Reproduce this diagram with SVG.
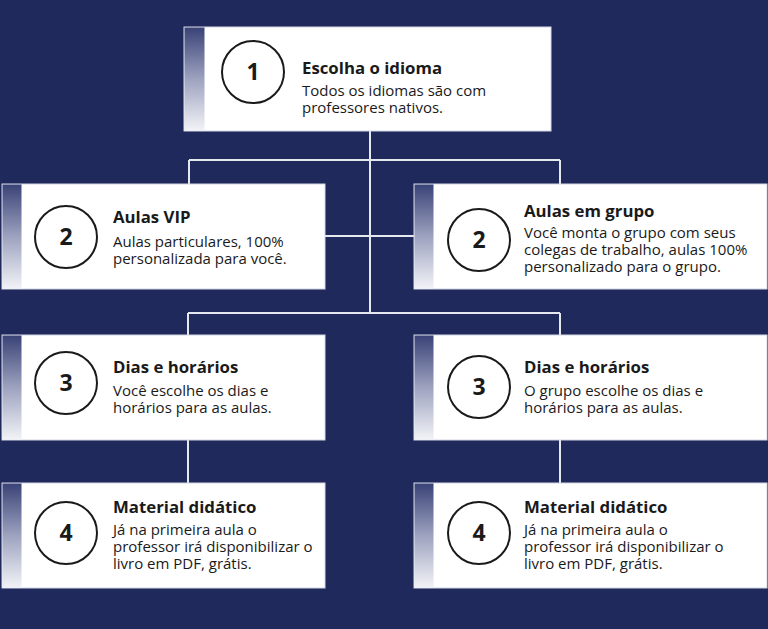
<svg xmlns="http://www.w3.org/2000/svg" width="768" height="629" viewBox="0 0 768 629">
<defs>
<linearGradient id="strip" x1="0" y1="0" x2="0" y2="1">
<stop offset="0" stop-color="#3a4377"/>
<stop offset="0.5" stop-color="#9da2bf"/>
<stop offset="1" stop-color="#f2f3f7"/>
</linearGradient>
<style>
.box{fill:#ffffff;stroke:#d4d7e4;stroke-width:1}
.strip{fill:url(#strip)}
.circ{fill:none;stroke:#1a1a1a;stroke-width:2}
.num{font-family:"Open Sans","Noto Sans",sans-serif;font-weight:700;font-size:23px;fill:#1a1a1a;text-anchor:middle}
.title{font-family:"Open Sans","Noto Sans",sans-serif;font-weight:700;font-size:16.8px;fill:#1a1a1a}
.body{font-family:"Open Sans","Noto Sans",sans-serif;font-size:15px;fill:#1a1a1a}
.conn{fill:none;stroke:#e6e8f0;stroke-width:2}
</style>
</defs>
<rect width="768" height="629" fill="#1f295c"/>
<g id="connectors">
<path class="conn" d="M370 131V313"/>
<path class="conn" d="M189 160H560M189 160V184M560 160V184"/>
<path class="conn" d="M325 236H414"/>
<path class="conn" d="M188 313H560M188 313V335M560 313V335"/>
<path class="conn" d="M188 440V483M560 440V483"/>
</g>
<g id="node1">
<rect class="box" x="184" y="27" width="367" height="104"/>
<rect class="strip" x="184.5" y="27.5" width="20" height="103"/>
<circle class="circ" cx="253" cy="72" r="31"/>
<text class="num" x="253" y="80">1</text>
<text class="title" x="302" y="74">Escolha o idioma</text>
<text class="body" x="302" y="96">Todos os idiomas são com</text>
<text class="body" x="302" y="113">professores nativos.</text>
</g>
<g id="node2a">
<rect class="box" x="2" y="184" width="323" height="105"/>
<rect class="strip" x="2.5" y="184.5" width="19" height="104"/>
<circle class="circ" cx="66" cy="237" r="31"/>
<text class="num" x="66" y="245">2</text>
<text class="title" x="113" y="223">Aulas VIP</text>
<text class="body" x="113" y="247">Aulas particulares, 100%</text>
<text class="body" x="113" y="264">personalizada para você.</text>
</g>
<g id="node2b">
<rect class="box" x="414" y="184" width="353" height="105"/>
<rect class="strip" x="414.5" y="184.5" width="19" height="104"/>
<circle class="circ" cx="479" cy="240" r="31"/>
<text class="num" x="479" y="248">2</text>
<text class="title" x="524" y="217">Aulas em grupo</text>
<text class="body" x="524" y="238">Você monta o grupo com seus</text>
<text class="body" x="524" y="255">colegas de trabalho, aulas 100%</text>
<text class="body" x="524" y="272">personalizado para o grupo.</text>
</g>
<g id="node3a">
<rect class="box" x="2" y="335" width="323" height="105"/>
<rect class="strip" x="2.5" y="335.5" width="19" height="104"/>
<circle class="circ" cx="66" cy="383" r="31"/>
<text class="num" x="66" y="391">3</text>
<text class="title" x="113" y="373">Dias e horários</text>
<text class="body" x="113" y="396">Você escolhe os dias e</text>
<text class="body" x="113" y="413">horários para as aulas.</text>
</g>
<g id="node3b">
<rect class="box" x="414" y="335" width="353" height="105"/>
<rect class="strip" x="414.5" y="335.5" width="19" height="104"/>
<circle class="circ" cx="479" cy="387" r="31"/>
<text class="num" x="479" y="395">3</text>
<text class="title" x="524" y="373">Dias e horários</text>
<text class="body" x="524" y="396">O grupo escolhe os dias e</text>
<text class="body" x="524" y="413">horários para as aulas.</text>
</g>
<g id="node4a">
<rect class="box" x="2" y="483" width="323" height="105"/>
<rect class="strip" x="2.5" y="483.5" width="19" height="104"/>
<circle class="circ" cx="66" cy="533" r="31"/>
<text class="num" x="66" y="541">4</text>
<text class="title" x="113" y="513">Material didático</text>
<text class="body" x="113" y="535">Já na primeira aula o</text>
<text class="body" x="113" y="552">professor irá disponibilizar o</text>
<text class="body" x="113" y="569">livro em PDF, grátis.</text>
</g>
<g id="node4b">
<rect class="box" x="414" y="483" width="353" height="105"/>
<rect class="strip" x="414.5" y="483.5" width="19" height="104"/>
<circle class="circ" cx="479" cy="533" r="31"/>
<text class="num" x="479" y="541">4</text>
<text class="title" x="524" y="513">Material didático</text>
<text class="body" x="524" y="535">Já na primeira aula o</text>
<text class="body" x="524" y="552">professor irá disponibilizar o</text>
<text class="body" x="524" y="569">livro em PDF, grátis.</text>
</g>
</svg>
